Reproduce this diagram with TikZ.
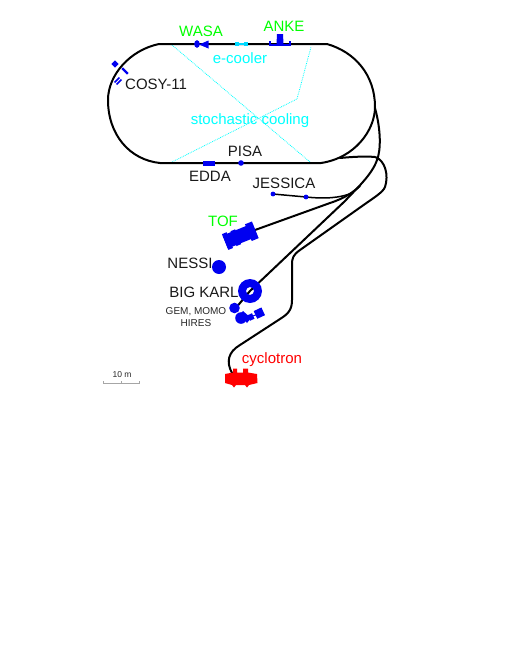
\documentclass[tikz,border=0pt]{standalone}
\usepackage{fontspec}
\setmainfont{Liberation Sans}
\definecolor{bl}{RGB}{0,0,240}
\definecolor{gn}{RGB}{0,255,0}
\definecolor{cy}{RGB}{0,255,255}
\definecolor{rd}{RGB}{255,0,0}
\tikzset{
 beam/.style={line width=2pt,black,line cap=round,line join=round},
 cool/.style={cy,line width=0.8pt,densely dotted},
 part/.style={fill=bl,draw=none},
 lab/.style={font=\fontsize{15}{15}\selectfont,inner sep=0pt,text=#1},
 lab/.default=black!90,
 small/.style={font=\fontsize{10}{12}\selectfont,inner sep=0pt,align=center,text=black!85}
}
\begin{document}
\begin{tikzpicture}[x=1pt,y=-1pt]
\useasboundingbox (0,0) rectangle (510,659);
% cooling
\draw[cool] (172,45) -- (310,162);
\draw[cool] (172,162) -- (297,99) -- (311,47);
% ring
\draw[beam] (159,44) -- (327,44) .. controls (355,52) and (375,75) .. (375,107)
 .. controls (375,130) and (355,158) .. (321,163) -- (160,163)
 .. controls (130,160) and (108,135) .. (108,100) .. controls (108,75) and (130,50) .. (159,44) -- cycle;
% extraction to Big Karl
\draw[beam] (375,108) .. controls (381,130) and (381,150) .. (377,160)
 .. controls (372,175) and (355,190) .. (345,201) -- (250,291) -- (235,309);
% second line
\draw[beam] (340,158) .. controls (350,157) and (365,156) .. (375,157)
 .. controls (385,160) and (389,175) .. (385,187) .. controls (383,192) and (375,197) .. (365,204)
 -- (300,250) .. controls (293,255) and (292,258) .. (292,265) -- (292,300)
 .. controls (292,310) and (288,314) .. (280,319) -- (240,345)
 .. controls (228,352) and (226,362) .. (232,373);
% Jessica / TOF
\draw[beam,line width=1.5pt] (273,194) -- (306,197) .. controls (325,199) and (340,198) .. (352,193);
\draw[beam] (255,230) -- (330,203) .. controls (345,198) and (352,193) .. (360,186);
% Jessica, Pisa points
\fill[bl] (273,194) circle (2.4);
\fill[bl] (306,197) circle (2.4);
\fill[bl] (241,163) circle (2.8);
\fill[part] (203,161) rectangle (215,165.5);
% WASA
\fill[part] (197,44) ellipse (2.8 and 3.8);
\fill[part] (208.5,40.5) -- (208.5,48.5) -- (199,44.5) -- cycle;
% e-cooler
\fill[cy!85!blue] (235,42) rectangle (238.5,46);
\fill[cy!85!blue] (244,42) rectangle (247.5,46);
\draw[cy!85!blue,line width=1.2pt] (237,44) -- (245,44);
% Anke
\fill[part] (277,34) -- (283,34) -- (283.5,44) -- (276.5,44) -- cycle;
\fill[part] (268.5,41) rectangle (270.5,46);
\fill[part] (289,41) rectangle (291,46);
\fill[part] (269,43.5) rectangle (290,45.5);
% Cosy-11
\fill[part,rotate around={45:(115,64)}] (112.5,61.5) rectangle (117.5,66.5);
\fill[part,rotate around={-45:(125,71)}] (121,69.8) rectangle (129,72.2);
\fill[part,rotate around={45:(118,81)}] (114.5,78.8) rectangle (121.5,80.4);
\fill[part,rotate around={45:(118,81)}] (114.5,81.6) rectangle (121.5,83.2);
% TOF
\fill[part,rotate around={22:(240,236)}] (224,229) rectangle (256,243);
\fill[part,rotate around={22:(240,236)}] (224,227.5) rectangle (229,244.5);
\fill[part,rotate around={22:(240,236)}] (233,228) rectangle (238,244);
\fill[part,rotate around={22:(240,236)}] (249,227) rectangle (256.5,245);
% Nessi
\fill[part] (219,267) circle (7);
% Big Karl
\fill[part,even odd rule] (250,291) circle (12) (250,291) circle (4);
% Gem etc
\fill[part] (234.5,308) circle (5.3);
\fill[part] (241,318) circle (5.8);
\fill[part] (240,314) -- (243,311) -- (251,318) -- (247,323) -- cycle;
\draw[bl,line width=1pt] (246,318) -- (259,314);
\fill[part,rotate around={25:(251,317)}] (248.5,314) rectangle (253.5,320);
\fill[part,rotate around={25:(259,313)}] (255,309) rectangle (263.5,317.5);
% Cyclotron
\fill[rd] (225,374) -- (233,372.5) -- (233,368.5) -- (237,368.5) -- (237,372.5) -- (243,372.5) -- (243,368.5) -- (248,368.5) -- (248,372.5) -- (257,374) -- (257.5,383) -- (249,385) -- (247,387.5) -- (245,385) -- (236,385) -- (234,387.5) -- (232,385) -- (225,383) -- cycle;
% scale
\draw[black!35,line width=0.7pt] (103.5,383) -- (139,383);
\draw[black!35,line width=0.7pt] (103.5,381) -- (103.5,384);
\draw[black!35,line width=0.7pt] (121.5,381) -- (121.5,384);
\draw[black!35,line width=0.7pt] (139,381) -- (139,384);
% labels
\node[lab=gn,anchor=base] (wasa) at (201,36) {WASA};
\node[lab=gn,anchor=base] (anke) at (284,31) {ANKE};
\node[lab=cy,anchor=base] (ecooler) at (240,63) {e-cooler};
\node[lab,anchor=base west] (cosy) at (125,89) {COSY-11};
\node[lab=cy,anchor=base] (stoch) at (250,124) {stochastic cooling};
\node[lab,anchor=base] (pisa) at (245,156) {PISA};
\node[lab,anchor=base] (edda) at (210,181) {EDDA};
\node[lab,anchor=base] (jessica) at (284,188) {JESSICA};
\node[lab=gn,anchor=base] (tof) at (223,226) {TOF};
\node[lab,anchor=base] (nessi) at (190,268) {NESSI};
\node[lab,anchor=base] (karl) at (204,297) {BIG KARL};
\node[small,anchor=center] (gem) at (196,317) {GEM, MOMO\\HIRES};
\node[lab=rd,anchor=base] (cyc) at (272,363) {cyclotron};
\node[font=\fontsize{8.5}{8.5}\selectfont,inner sep=0pt,anchor=base,text=black!85] (ten) at (122,377) {10 m};
\end{tikzpicture}
\end{document}
